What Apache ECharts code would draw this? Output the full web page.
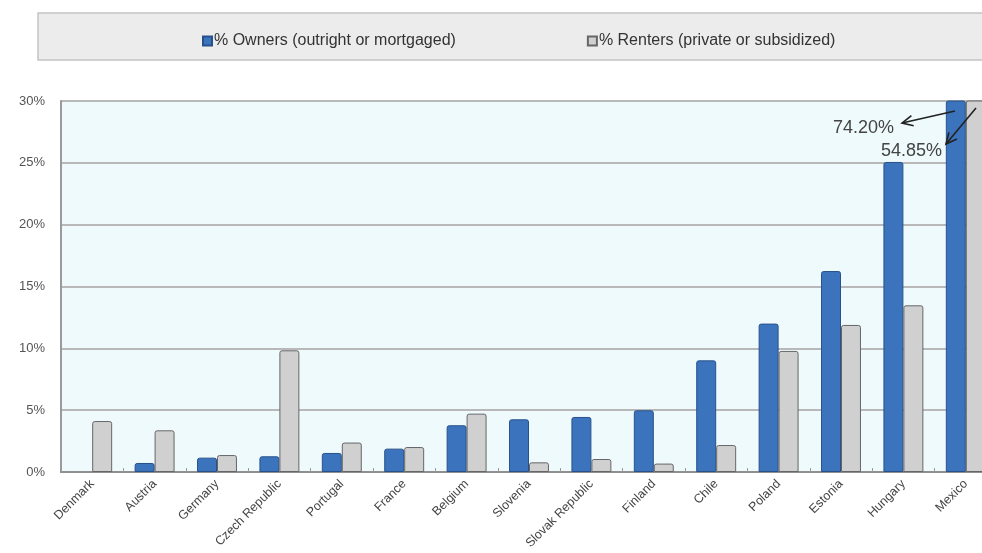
<!DOCTYPE html>
<html>
<head>
<meta charset="utf-8">
<script src="https://cdn.jsdelivr.net/npm/echarts@6/dist/echarts.min.js"></script>
<style>
  html, body { margin: 0; padding: 0; background: #fff; }
  #chart { width: 982px; height: 553px; }
</style>
</head>
<body>
<div id="chart"></div>
<script>
// data (percent of households)
const countries = ["Denmark", "Austria", "Germany", "Czech Republic", "Portugal", "France", "Belgium",
  "Slovenia", "Slovak Republic", "Finland", "Chile", "Poland", "Estonia", "Hungary", "Mexico"];
const owners = [null, 0.73, 1.16, 1.27, 1.54, 1.89, 3.78, 4.26, 4.45, 4.99, 9.03, 12.0, 16.25, 25.07, 74.20];
const renters = [4.12, 3.37, 1.37, 9.84, 2.38, 2.02, 4.72, 0.78, 1.05, 0.68, 2.18, 9.79, 11.89, 13.48, 54.85];
const yTicks = [0, 5, 10, 15, 20, 25, 30];

const chart = echarts.init(document.getElementById("chart"));

// open chevron arrow (line + head) for the off-scale callouts
function arrow(x1, y1, x2, y2) {
  const a = Math.atan2(y2 - y1, x2 - x1);
  const len = 12, spread = 0.45;
  const style = { stroke: "#222", lineWidth: 1.6, fill: null };
  return [
    { type: "line", shape: { x1: x1, y1: y1, x2: x2, y2: y2 }, style: style, z: 100 },
    {
      type: "polyline",
      shape: {
        points: [
          [x2 - len * Math.cos(a - spread), y2 - len * Math.sin(a - spread)],
          [x2, y2],
          [x2 - len * Math.cos(a + spread), y2 - len * Math.sin(a + spread)]
        ]
      },
      style: style,
      z: 100
    }
  ];
}

const last = countries.length - 1;
const calloutFont = "18px 'Liberation Sans', Arial, sans-serif";

const option = {
  backgroundColor: "#fff",
  animation: false,
  legend: {
    data: ["% Owners (outright or mortgaged)", "% Renters (private or subsidized)"],
    left: 197,
    top: 28,
    itemWidth: 9,
    itemHeight: 9,
    itemGap: 131,
    icon: "rect",
    textStyle: {
      fontFamily: "'Liberation Sans', Arial, sans-serif",
      fontSize: 16,
      color: "#333",
      padding: [0, 0, 0, -3]
    }
  },
  grid: {
    left: 61,
    top: 101,
    height: 371,
    width: 936,
    outerBoundsMode: "none",
    containLabel: false,
    show: true,
    backgroundColor: "#effafd",
    borderColor: "#aaa",
    borderWidth: 1
  },
  xAxis: {
    type: "category",
    data: countries,
    axisLine: { lineStyle: { color: "#8f8f8f", width: 2 } },
    axisTick: { show: true, inside: true, length: 4, lineStyle: { color: "#999" } },
    axisLabel: {
      rotate: 45,
      interval: 0,
      margin: 10,
      fontSize: 12.5,
      color: "#444",
      fontFamily: "'Liberation Sans', Arial, sans-serif"
    }
  },
  yAxis: {
    type: "value",
    min: 0,
    max: 30,
    interval: 5,
    axisLine: { show: true, lineStyle: { color: "#9a9a9a", width: 2 } },
    axisTick: { show: false },
    splitLine: { lineStyle: { color: "#b8b8b8", width: 2 } },
    axisLabel: {
      formatter: v => yTicks.includes(v) ? v + "%" : "",
      margin: 16,
      fontSize: 13,
      color: "#555",
      fontFamily: "'Liberation Sans', Arial, sans-serif"
    }
  },
  series: [
    {
      name: "% Owners (outright or mortgaged)",
      type: "bar",
      data: owners,
      barGap: "0%",
      barCategoryGap: "36%",
      clip: true,
      itemStyle: { color: "#3b74bd", borderColor: "#27518a", borderWidth: 1, borderRadius: [2, 2, 0, 0] }
    },
    {
      name: "% Renters (private or subsidized)",
      type: "bar",
      data: renters,
      clip: true,
      itemStyle: { color: "#d0d0d0", borderColor: "#666", borderWidth: 1, borderRadius: [2, 2, 0, 0] }
    }
  ],
  graphic: [
    {
      type: "rect",
      shape: { x: 38, y: 13, width: 960, height: 47 },
      style: { fill: "#ececec", stroke: "#c4c4c4", lineWidth: 1.5 },
      z: -10
    },
    {
      type: "text",
      x: 833, y: 128,
      style: { text: owners[last].toFixed(2) + "%", font: calloutFont, fill: "#444", verticalAlign: "middle" },
      z: 100
    },
    {
      type: "text",
      x: 881, y: 151,
      style: { text: renters[last].toFixed(2) + "%", font: calloutFont, fill: "#444", verticalAlign: "middle" },
      z: 100
    }
  ].concat(arrow(955, 111, 902, 123), arrow(976, 108, 946, 144))
};

chart.setOption(option);
</script>
</body>
</html>
